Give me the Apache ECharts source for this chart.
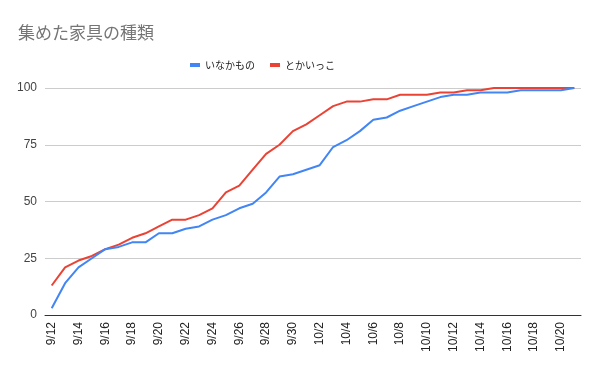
<!DOCTYPE html>
<html><head><meta charset="utf-8">
<script src="https://cdn.jsdelivr.net/npm/echarts@6/dist/echarts.min.js"></script>
<style>html,body{margin:0;padding:0;background:#fff}#c{width:600px;height:371px}</style>
</head><body><div id="c"></div>
<script>
const dates = ['9/12','9/13','9/14','9/15','9/16','9/17','9/18','9/19','9/20','9/21','9/22','9/23','9/24','9/25','9/26','9/27','9/28','9/29','9/30','10/1','10/2','10/3','10/4','10/5','10/6','10/7','10/8','10/9','10/10','10/11','10/12','10/13','10/14','10/15','10/16','10/17','10/18','10/19','10/20','10/21'];
const inakamono = [3,14,21,25,29,30,32,32,36,36,38,39,42,44,47,49,54,61,62,64,66,74,77,81,86,87,90,92,94,96,97,97,98,98,98,99,99,99,99,100];
const tokaikko = [13,21,24,26,29,31,34,36,39,42,42,44,47,54,57,64,71,75,81,84,88,92,94,94,95,95,97,97,97,98,98,99,99,100,100,100,100,100,100,100];
const seriesNames = ['いなかもの','とかいっこ'];
const titleText = '集めた家具の種類';
const yTicks = [0,25,50,75,100];

const chart = echarts.init(document.getElementById('c'), null, {renderer:'canvas'});
const font = '"Noto Sans CJK JP", Arial, sans-serif';
chart.setOption({
  animation:false,
  textStyle:{fontFamily:font},
  title:{text:titleText,left:13,top:19,textStyle:{fontSize:17,fontWeight:'normal',color:'#757575',fontFamily:font}},
  legend:{data:seriesNames,top:55,left:185,icon:'rect',itemWidth:10,itemHeight:4,itemGap:15,textStyle:{fontSize:10,color:'#222',fontFamily:font}},
  grid:{left:45,right:19,top:88,bottom:56,containLabel:false},
  xAxis:{type:'category',data:dates,boundaryGap:true,
    axisLine:{lineStyle:{color:'#333',width:1}},axisTick:{show:false},
    axisLabel:{interval:1,rotate:90,fontSize:12,color:'#222',margin:7,fontFamily:'Arial, "Liberation Sans", sans-serif'}},
  yAxis:{type:'value',min:yTicks[0],max:yTicks[yTicks.length-1],interval:25,
    axisLine:{show:false},axisTick:{show:false},
    splitLine:{lineStyle:{color:'#cccccc',width:1}},
    axisLabel:{fontSize:12,color:'#444',margin:8,fontFamily:'Arial, "Liberation Sans", sans-serif'}},
  series:[
    {name:seriesNames[0],type:'line',data:inakamono,showSymbol:false,symbol:'none',lineStyle:{width:2,color:'#4285F4'},itemStyle:{color:'#4285F4'},z:3},
    {name:seriesNames[1],type:'line',data:tokaikko,showSymbol:false,symbol:'none',lineStyle:{width:2,color:'#EA4335'},itemStyle:{color:'#EA4335'},z:2}
  ]
});
</script></body></html>
